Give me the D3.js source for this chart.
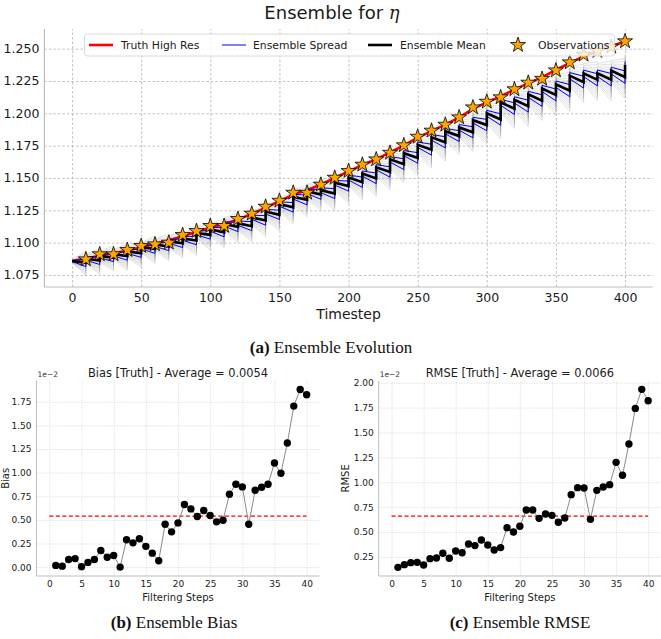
<!DOCTYPE html>
<html><head><meta charset="utf-8">
<script src="https://cdn.jsdelivr.net/npm/d3@7"></script>
<style>body{margin:0;background:#fff} svg{display:block}</style>
</head><body>
<svg id="c" width="661" height="639"></svg>
<script>
// ---------------- DATA ----------------
const obsTimes = d3.range(10, 401, 10);          // observation timesteps
const truthTimes = d3.range(0, 401, 10);
const truthValues = [1.0858,1.0878,1.0898,1.0918,1.0940,1.0965,1.0990,1.1018,1.1050,1.1085,1.1115,
  1.1145,1.1180,1.1222,1.1270,1.1320,1.1370,1.1405,1.1450,1.1500,1.1550,
  1.1600,1.1645,1.1698,1.1752,1.1812,1.1862,1.1912,1.1968,1.2035,1.2085,
  1.2130,1.2185,1.2232,1.2280,1.2335,1.2390,1.2440,1.2480,1.2518,1.2555];
const obsValues = [1.0871,1.0910,1.0910,1.0943,1.0974,1.0987,1.1000,1.1059,1.1090,1.1129,
  1.1129,1.1183,1.1224,1.1278,1.1324,1.1386,1.1386,1.1448,1.1502,1.1554,
  1.1603,1.1644,1.1695,1.1753,1.1819,1.1866,1.1912,1.1969,1.2046,1.2090,
  1.2124,1.2186,1.2237,1.2267,1.2332,1.2394,1.2453,1.2482,1.2515,1.2557];
// ensemble mean right after each analysis (t = 0,10,...,400)
const meanAnalysis = [1.0858,1.0876,1.0897,1.0910,1.0931,1.0965,1.0985,1.1010,1.1032,1.1075,1.1103,
  1.1145,1.1151,1.1196,1.1240,1.1298,1.1355,1.1398,1.1405,1.1463,1.1503,
  1.1534,1.1583,1.1644,1.1692,1.1757,1.1814,1.1862,1.1891,1.1947,1.2000,
  1.2085,1.2104,1.2147,1.2192,1.2225,1.2291,1.2309,1.2310,1.2330,1.2373];
// ensemble mean just before each analysis (t = 10,...,400)
const meanForecast = [1.0844,1.0862,1.0883,1.0896,1.0917,1.0950,1.0970,1.0995,1.1017,1.1060,
  1.1080,1.1121,1.1127,1.1172,1.1215,1.1273,1.1330,1.1372,1.1379,1.1437,
  1.1467,1.1497,1.1546,1.1607,1.1655,1.1719,1.1776,1.1824,1.1853,1.1909,
  1.1952,1.2036,1.2055,1.2098,1.2142,1.2175,1.2241,1.2259,1.2260,1.2280];
const spreadAnalysis = [0.0003,0.0012,0.0013,0.0012,0.0014,0.0013,0.0014,0.0015,0.0014,0.0015,0.0015,
  0.0016,0.0017,0.0016,0.0018,0.0017,0.0018,0.0018,0.0019,0.0018,0.0019,
  0.0020,0.0020,0.0021,0.0020,0.0021,0.0022,0.0021,0.0022,0.0022,0.0023,
  0.0023,0.0024,0.0023,0.0024,0.0025,0.0024,0.0025,0.0025,0.0026,0.0026];
const spreadForecast = [0.0030,0.0031,0.0030,0.0032,0.0031,0.0033,0.0032,0.0033,0.0034,0.0033,
  0.0035,0.0036,0.0035,0.0037,0.0036,0.0037,0.0038,0.0037,0.0038,0.0039,
  0.0040,0.0041,0.0040,0.0042,0.0041,0.0042,0.0043,0.0042,0.0043,0.0044,
  0.0044,0.0045,0.0046,0.0045,0.0046,0.0047,0.0046,0.0047,0.0048,0.0048];
const memberZ = [-3.4,-2.9,-2.5,-2.1,-1.8,-1.5,-1.2,-0.9,-0.65,-0.4,-0.15,0.1,0.35,0.6,0.9,1.2,1.6,2.0,2.5,3.0];

const steps = d3.range(1, 41);
const biasValues = [0.018,0.010,0.080,0.090,0.005,0.050,0.080,0.176,0.105,0.123,
  0.000,0.290,0.257,0.300,0.220,0.148,0.067,0.454,0.373,0.468,
  0.662,0.616,0.535,0.599,0.546,0.479,0.496,0.771,0.877,0.849,
  0.454,0.813,0.845,0.877,1.102,0.993,1.313,1.704,1.880,1.824];
const rmseValues = [0.146,0.173,0.193,0.196,0.170,0.233,0.240,0.287,0.237,0.310,
  0.293,0.380,0.364,0.420,0.370,0.320,0.344,0.544,0.501,0.558,
  0.722,0.722,0.638,0.681,0.668,0.598,0.641,0.876,0.946,0.942,
  0.628,0.919,0.952,0.976,1.200,1.070,1.384,1.742,1.933,1.819];
const biasAvg = 0.54, rmseAvg = 0.66;
const topXTicks = [0,50,100,150,200,250,300,350,400];
const topYTicks = [1.075,1.100,1.125,1.150,1.175,1.200,1.225,1.250];
const botXTicks = [0,5,10,15,20,25,30,35,40];
const biasYTicks = [0,0.25,0.5,0.75,1.0,1.25,1.5,1.75];
const rmseYTicks = [0.25,0.5,0.75,1.0,1.25,1.5,1.75,2.0];

// ---------------- DRAW ----------------
const svg = d3.select("#c");
const SANS = "DejaVu Sans, sans-serif";
const SERIF = "Liberation Serif, DejaVu Serif, serif";

// ===== top chart =====
const tL=44.4, tR=652.7, tT=29, tB=287;
const xT = d3.scaleLinear().domain([-20,420]).range([tL,tR]);
const yT = d3.scaleLinear().domain([1.0657,1.2652]).range([tB,tT]);
const topG = svg.append("g");

// grid
topG.append("g").attr("transform",`translate(0,${tB})`)
  .call(d3.axisBottom(xT).tickValues(topXTicks).tickSize(-(tB-tT)).tickFormat(""))
  .call(g=>{g.select(".domain").remove();g.selectAll("line").attr("stroke","#b3b3b3").attr("stroke-width",0.8).attr("stroke-dasharray","2.5,2");});
topG.append("g").attr("transform",`translate(${tL},0)`)
  .call(d3.axisLeft(yT).tickValues(topYTicks).tickSize(-(tR-tL)).tickFormat(""))
  .call(g=>{g.select(".domain").remove();g.selectAll("line").attr("stroke","#b3b3b3").attr("stroke-width",0.8).attr("stroke-dasharray","2.5,2");});

function sawPts(a, f){
  const pts=[[0,a[0]]];
  for(let k=0;k<obsTimes.length;k++){pts.push([obsTimes[k],f[k]]);pts.push([obsTimes[k],a[k+1]]);}
  return pts;
}
const lineT = d3.line().x(d=>xT(d[0])).y(d=>yT(d[1]));
// members
memberZ.forEach(z=>{
  const a = meanAnalysis.map((m,i)=>m+z*spreadAnalysis[i]);
  const f = meanForecast.map((m,i)=>m+z*spreadForecast[i]);
  topG.append("path").attr("d",lineT(sawPts(a,f))).attr("fill","none")
    .attr("stroke","#8c8c8c").attr("stroke-opacity",0.45).attr("stroke-width",0.6);
});
// truth
topG.append("path").attr("d",lineT(truthTimes.map((t,i)=>[t,truthValues[i]])))
  .attr("fill","none").attr("stroke","#ff0000").attr("stroke-width",2.6);
// spread
[1,-1].forEach(s=>{
  const a = meanAnalysis.map((m,i)=>m+s*spreadAnalysis[i]);
  const f = meanForecast.map((m,i)=>m+s*spreadForecast[i]);
  topG.append("path").attr("d",lineT(sawPts(a,f))).attr("fill","none")
    .attr("stroke","#0000ff").attr("stroke-width",1);
});
// mean
topG.append("path").attr("d",lineT(sawPts(meanAnalysis,meanForecast))).attr("fill","none")
  .attr("stroke","#000").attr("stroke-width",2.6).attr("stroke-linejoin","miter");
// observations
const star = d3.symbol(d3.symbolStar).size(70);
topG.append("g").selectAll("path").data(obsTimes).join("path")
  .attr("transform",(t,i)=>`translate(${xT(t)},${yT(obsValues[i])})`)
  .attr("d",star).attr("fill","#ffa500").attr("stroke","#000").attr("stroke-width",0.8);

// spines
topG.append("line").attr("x1",tL).attr("x2",tL).attr("y1",tT).attr("y2",tB).attr("stroke","#bdbdbd").attr("stroke-width",1.2);
topG.append("line").attr("x1",tL).attr("x2",tR).attr("y1",tB).attr("y2",tB).attr("stroke","#bdbdbd").attr("stroke-width",1.2);

// axes labels
topG.append("g").attr("transform",`translate(0,${tB})`)
  .call(d3.axisBottom(xT).tickValues(topXTicks).tickSize(0).tickPadding(6))
  .call(g=>{g.select(".domain").remove();g.selectAll("text").attr("font-family",SANS).attr("font-size",12.5).attr("fill","#1a1a1a");});
topG.append("g").attr("transform",`translate(${tL},0)`)
  .call(d3.axisLeft(yT).tickValues(topYTicks).tickSize(0).tickPadding(5).tickFormat(d3.format(".3f")))
  .call(g=>{g.select(".domain").remove();g.selectAll("text").attr("font-family",SANS).attr("font-size",12.5).attr("fill","#1a1a1a");});
topG.append("text").attr("x",(tL+tR)/2).attr("y",319).attr("text-anchor","middle")
  .attr("font-family",SANS).attr("font-size",14).attr("fill","#1a1a1a").text("Timestep");
const ttl = topG.append("text").attr("x",332).attr("y",19).attr("text-anchor","middle")
  .attr("font-family",SANS).attr("font-size",18).attr("fill","#1a1a1a");
ttl.append("tspan").text("Ensemble for ");
ttl.append("tspan").attr("font-style","italic").attr("font-family","DejaVu Serif, serif").text("η");

// legend
const lg = topG.append("g");
lg.append("rect").attr("x",84.5).attr("y",34).attr("width",530).attr("height",22).attr("rx",3)
  .attr("fill","#fff").attr("fill-opacity",0.8).attr("stroke","#d0d0d0").attr("stroke-width",0.8);
const legendItems = [
  {label:"Truth High Res", type:"line", color:"#ff0000", w:2.6, x:89, tx:121},
  {label:"Ensemble Spread", type:"line", color:"#0000ff", w:1, x:222, tx:253},
  {label:"Ensemble Mean", type:"line", color:"#000", w:2.6, x:368, tx:400},
  {label:"Observations", type:"star", x:506, tx:538}
];
legendItems.forEach(it=>{
  if(it.type==="line"){
    lg.append("line").attr("x1",it.x).attr("x2",it.x+24).attr("y1",45).attr("y2",45).attr("stroke",it.color).attr("stroke-width",it.w);
  } else {
    lg.append("path").attr("transform",`translate(${it.x+12},45)`).attr("d",star).attr("fill","#ffa500").attr("stroke","#000").attr("stroke-width",0.8);
  }
  lg.append("text").attr("x",it.tx).attr("y",48.8).attr("font-family",SANS).attr("font-size",10.8).attr("fill","#1a1a1a").text(it.label);
});

// caption a
const capA = svg.append("text").attr("x",331).attr("y",353).attr("text-anchor","middle").attr("font-family",SERIF).attr("font-size",17).attr("fill","#111");
capA.append("tspan").attr("font-weight","bold").text("(a)");
capA.append("tspan").text(" Ensemble Evolution");

// ===== bottom charts =====
function smallChart(opts){
  const {l,r,t,b,xDom,yDom,yTicks,values,avg,title,ylabel,ylabelX,caption,capX} = opts;
  const g = svg.append("g");
  const x = d3.scaleLinear().domain(xDom).range([l,r]);
  const y = d3.scaleLinear().domain(yDom).range([b,t]);
  g.append("g").attr("transform",`translate(0,${b})`)
    .call(d3.axisBottom(x).tickValues(botXTicks).tickSize(-(b-t)).tickFormat(""))
    .call(a=>{a.select(".domain").remove();a.selectAll("line").attr("stroke","#d9d9d9").attr("stroke-width",0.7).attr("stroke-dasharray","1.5,1");});
  g.append("g").attr("transform",`translate(${l},0)`)
    .call(d3.axisLeft(y).tickValues(yTicks).tickSize(-(r-l)).tickFormat(""))
    .call(a=>{a.select(".domain").remove();a.selectAll("line").attr("stroke","#d9d9d9").attr("stroke-width",0.7).attr("stroke-dasharray","1.5,1");});
  g.append("line").attr("x1",x(0)).attr("x2",x(40)).attr("y1",y(avg)).attr("y2",y(avg))
    .attr("stroke","#ff0000").attr("stroke-width",1.3).attr("stroke-dasharray","4,2.5");
  g.append("path").attr("d",d3.line().x((d,i)=>x(steps[i])).y(d=>y(d))(values))
    .attr("fill","none").attr("stroke","#8a8a8a").attr("stroke-width",1);
  g.append("g").selectAll("circle").data(values).join("circle")
    .attr("cx",(d,i)=>x(steps[i])).attr("cy",d=>y(d)).attr("r",3.7).attr("fill","#000");
  g.append("line").attr("x1",l).attr("x2",l).attr("y1",t).attr("y2",b).attr("stroke","#bdbdbd").attr("stroke-width",1);
  g.append("line").attr("x1",l).attr("x2",r).attr("y1",b).attr("y2",b).attr("stroke","#bdbdbd").attr("stroke-width",1);
  g.append("g").attr("transform",`translate(0,${b})`)
    .call(d3.axisBottom(x).tickValues(botXTicks).tickSize(0).tickPadding(5))
    .call(a=>{a.select(".domain").remove();a.selectAll("text").attr("font-family",SANS).attr("font-size",9).attr("fill","#1a1a1a");});
  g.append("g").attr("transform",`translate(${l},0)`)
    .call(d3.axisLeft(y).tickValues(yTicks).tickSize(0).tickPadding(5).tickFormat(d3.format(".2f")))
    .call(a=>{a.select(".domain").remove();a.selectAll("text").attr("font-family",SANS).attr("font-size",9).attr("fill","#1a1a1a");});
  g.append("text").attr("x",l+1).attr("y",377).attr("font-family",SANS).attr("font-size",7.5).attr("fill","#333").text("1e\u22122");
  g.append("text").attr("x",(l+r)/2).attr("y",377).attr("text-anchor","middle").attr("font-family",SANS).attr("font-size",11.4).attr("fill","#1a1a1a").text(title);
  g.append("text").attr("x",(l+r)/2).attr("y",601).attr("text-anchor","middle").attr("font-family",SANS).attr("font-size",10).attr("fill","#1a1a1a").text("Filtering Steps");
  g.append("text").attr("transform",`translate(${ylabelX},${(t+b)/2}) rotate(-90)`).attr("text-anchor","middle").attr("font-family",SANS).attr("font-size",10).attr("fill","#1a1a1a").text(ylabel);
  const cap = g.append("text").attr("x",capX).attr("y",628).attr("text-anchor","middle").attr("font-family",SERIF).attr("font-size",17).attr("fill","#111");
  cap.append("tspan").attr("font-weight","bold").text(caption[0]);
  cap.append("tspan").text(caption[1]);
}
smallChart({l:36.5,r:319.5,t:380.6,b:576,xDom:[-2,42],yDom:[-0.094,1.974],yTicks:biasYTicks,
  values:biasValues,avg:biasAvg,title:"Bias [Truth] - Average = 0.0054",ylabel:"Bias",ylabelX:9,
  caption:["(b)"," Ensemble Bias"],capX:174});
smallChart({l:378.7,r:661,t:380.7,b:576,xDom:[-2,42],yDom:[0.059,2.02],yTicks:rmseYTicks,
  values:rmseValues,avg:rmseAvg,title:"RMSE [Truth] - Average = 0.0066",ylabel:"RMSE",ylabelX:349,
  caption:["(c)"," Ensemble RMSE"],capX:520});
</script>
</body></html>
